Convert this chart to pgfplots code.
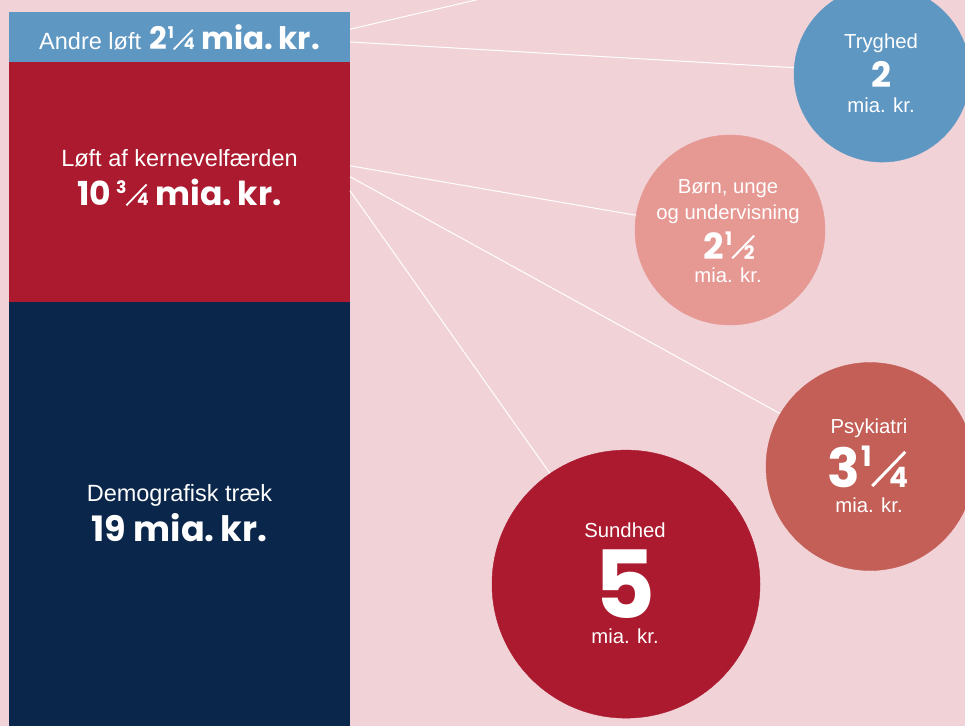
\documentclass[border=0pt]{standalone}
\usepackage{fontspec}
\setmainfont{Liberation Sans}
\newfontfamily\numfont{Poppins}
\usepackage{graphicx}
\usepackage{pgfplots}
\pgfplotsset{compat=1.18}
\definecolor{bgpink}{HTML}{F1D2D7}
\definecolor{cblue}{HTML}{5F97C3}
\definecolor{cred}{HTML}{AB1A2E}
\definecolor{cnavy}{HTML}{0A264A}
\definecolor{csalmon}{HTML}{E69893}
\definecolor{cpsyk}{HTML}{C35F57}
\newcommand{\reg}[1]{{\fontsize{23.5}{28}\selectfont #1}}
\newcommand{\creg}[1]{{\fontsize{20.3}{24}\selectfont #1}}
\newcommand{\bignum}[2]{{\numfont\bfseries\fontsize{#1}{#1}\selectfont #2}}
% built-up fraction: small numerator, thin slash, small denominator
\newcommand{\fr}[2]{\kern0.03em\raisebox{0.38em}{\scalebox{0.52}{#1}}\kern-0.02em\rotatebox{46}{\rule{0.88em}{0.055em}}\kern-0.31em\scalebox{0.52}{#2}}
\begin{document}
\begin{tikzpicture}
\begin{axis}[
  width=965pt, height=726pt, scale only axis,
  xmin=0, xmax=965, ymin=0, ymax=32.54,
  axis lines=none,
  axis background/.style={fill=bgpink},
  ybar stacked, bar width=341, bar shift=0pt,
]
\addplot[fill=cnavy, draw=none] coordinates {(179.5,19)};
\addplot[fill=cred, draw=none] coordinates {(179.5,10.75)};
\addplot[fill=cblue, draw=none] coordinates {(179.5,2.25)};
\end{axis}
\begin{axis}[
  width=965pt, height=726pt, scale only axis,
  xmin=0, xmax=965, ymin=0, ymax=32.54,
  axis lines=none,
  clip marker paths=true,
]
% connector lines
\addplot[white, line width=1pt] coordinates {(350,31.23) (500,32.79)};
\addplot[white, line width=1pt] coordinates {(350,30.66) (800,29.49)};
\addplot[white, line width=1pt] coordinates {(350,25.11) (640,22.86)};
\addplot[white, line width=1pt] coordinates {(350,24.62) (785,13.88)};
\addplot[white, line width=1pt] coordinates {(350,23.99) (555,11.00)};
% bubbles
\addplot[only marks, mark=*, mark size=88pt, color=cblue] coordinates {(882,29.22)};
\addplot[only marks, mark=*, mark size=95pt, color=csalmon] coordinates {(730,22.23)};
\addplot[only marks, mark=*, mark size=104pt, color=cpsyk] coordinates {(870,11.63)};
\addplot[only marks, mark=*, mark size=134pt, color=cred] coordinates {(626,6.36)};
% bar labels
\node[anchor=base, text=white, inner sep=0pt] at (179.5,30.30) {\reg{Andre løft}\hspace{8pt}\bignum{31}{2\fr{1}{4} mia.\kern0.18em kr.}};
\node[anchor=base, text=white, inner sep=0pt] at (179.5,25.06) {\reg{Løft af kernevelfærden}};
\node[anchor=base, text=white, inner sep=0pt] at (179.5,23.31) {\bignum{33}{10\kern0.12em\fr{3}{4} mia.\kern0.18em kr.}};
\node[anchor=base, text=white, inner sep=0pt] at (179.5,10.04) {\reg{Demografisk træk}};
\node[anchor=base, text=white, inner sep=0pt] at (179.5,8.26) {\bignum{35}{19 mia.\kern0.18em kr.}};
% bubble labels
\node[anchor=base, text=white, inner sep=0pt] at (881,30.35) {\creg{Tryghed}};
\node[anchor=base, text=white, inner sep=0pt] at (881,28.64) {\bignum{35}{2}};
\node[anchor=base, text=white, inner sep=0pt] at (881,27.48) {\creg{mia. kr.}};
\node[anchor=base, text=white, inner sep=0pt] at (728,23.85) {\creg{Børn, unge}};
\node[anchor=base, text=white, inner sep=0pt] at (729,20.93) {\bignum{36}{2\fr{1}{2}}};
\node[anchor=base, text=white, inner sep=0pt] at (728,22.68) {\creg{og undervisning}};
\node[anchor=base, text=white, inner sep=0pt] at (728,19.86) {\creg{mia. kr.}};
\node[anchor=base, text=white, inner sep=0pt] at (869,13.13) {\creg{Psykiatri}};
\node[anchor=base, text=white, inner sep=0pt] at (868,10.71) {\bignum{54}{3\fr{1}{4}}};
\node[anchor=base, text=white, inner sep=0pt] at (869,9.55) {\creg{mia. kr.}};
\node[anchor=base, text=white, inner sep=0pt] at (625,8.47) {\creg{Sundhed}};
\node[anchor=base, text=white, inner sep=0pt] at (625,4.84) {\bignum{94}{5}};
\node[anchor=base, text=white, inner sep=0pt] at (625,3.68) {\creg{mia. kr.}};
\end{axis}
\pgfresetboundingbox
\useasboundingbox (current axis.south west) rectangle (current axis.north east);
\end{tikzpicture}
\end{document}
